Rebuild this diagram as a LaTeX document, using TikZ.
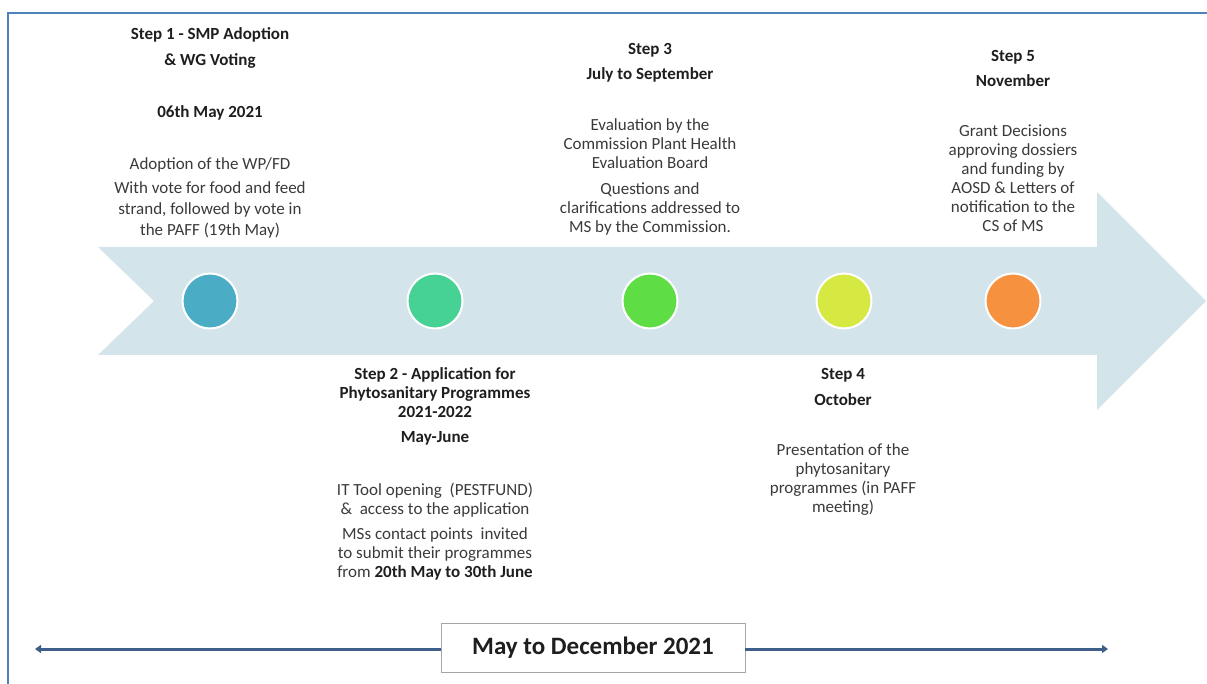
\documentclass[tikz,border=0pt]{standalone}
\usepackage{fontspec}
\setmainfont{Carlito}
\usetikzlibrary{arrows.meta}
\definecolor{framec}{HTML}{4F81BD}
\definecolor{arrowc}{HTML}{D3E4EB}
\definecolor{cA}{HTML}{4BACC6}
\definecolor{cB}{HTML}{47D295}
\definecolor{cC}{HTML}{5EDD45}
\definecolor{cD}{HTML}{D6E842}
\definecolor{cE}{HTML}{F5913F}
\definecolor{linec}{HTML}{3E5F8A}
\definecolor{headc}{HTML}{1E1E1E}
\definecolor{bodyc}{HTML}{3A3A3A}
\tikzset{
  head/.style={align=center, inner sep=0pt, anchor=base, text=headc, font=\fontsize{17}{19}\selectfont\bfseries},
  body/.style={align=center, inner sep=0pt, anchor=base, text=bodyc, font=\fontsize{17}{19}\selectfont},
  dot/.style={circle, minimum size=55pt, inner sep=0pt, draw=white, line width=2pt},
  tline/.style={draw=linec, line width=3pt},
}
\begin{document}
\begin{tikzpicture}[x=1pt,y=-1pt]
\useasboundingbox (0,0) rectangle (1207,684);
% frame
\draw[framec, line width=2pt] (8,684) -- (8,13) -- (1207,13);
% big arrow
\fill[arrowc] (98,247) -- (1097,247) -- (1097,192) -- (1206,301) -- (1097,410) -- (1097,355) -- (98,355) -- (154,301) -- cycle;
% circles
\node[dot, fill=cA] (c1) at (210,301) {};
\node[dot, fill=cB] (c2) at (435,301) {};
\node[dot, fill=cC] (c3) at (650,301) {};
\node[dot, fill=cD] (c4) at (844,301) {};
\node[dot, fill=cE] (c5) at (1013,301) {};
% Step 1 (base anchor = baseline of the last line)
\node[head] (s1t) at (210,66) {Step 1 - SMP Adoption\\[7pt]\& WG Voting};
\node[head] (s1d) at (210,118) {06th May 2021};
\node[body, font=\fontsize{17}{21}\selectfont] (s1b) at (210,236) {Adoption of the WP/FD\\[3pt]With vote for food and feed\\strand, followed by vote in\\the PAFF (19th May)};
% Step 3
\node[head] (s3t) at (650,80) {Step 3\\[6pt]July to September};
\node[body] (s3b) at (650,233) {Evaluation by the\\Commission Plant Health\\Evaluation Board\\[7pt]Questions and\\clarifications addressed to\\MS by the Commission.};
% Step 5
\node[head] (s5t) at (1013,87) {Step 5\\[6pt]November};
\node[body] (s5b) at (1013,232) {Grant Decisions\\approving dossiers\\and funding by\\AOSD \& Letters of\\notification to the\\CS of MS};
% Step 2
\node[head] (s2t) at (435,417) {Step 2 - Application for\\Phytosanitary Programmes\\2021-2022};
\node[head] (s2d) at (435,442) {May-June};
\node[body] (s2b) at (435,577) {IT Tool opening\ \ (PESTFUND)\\\&\ \ access to the application\\[6pt]MSs contact points\ \ invited\\to submit their programmes\\from \textbf{\color{headc}20th May to 30th June}};
% Step 4
\node[head] (s4t) at (843,405) {Step 4\\[7pt]October};
\node[body] (s4b) at (843,512) {Presentation of the\\phytosanitary\\programmes (in PAFF\\meeting)};
% timeline
\coordinate (tl) at (35,649);
\coordinate (tr) at (1108,649);
\node[draw=gray!70, fill=white, line width=0.8pt, minimum width=304pt, minimum height=49pt, inner sep=0pt, text=headc, font=\fontsize{25}{30}\selectfont\bfseries] (period) at (593,648) {May to December 2021};
\draw[tline, -{Triangle[length=6pt,width=8pt]}] (period.west |- tl) -- (tl);
\draw[tline, -{Triangle[length=6pt,width=8pt]}] (period.east |- tr) -- (tr);
\end{tikzpicture}
\end{document}
